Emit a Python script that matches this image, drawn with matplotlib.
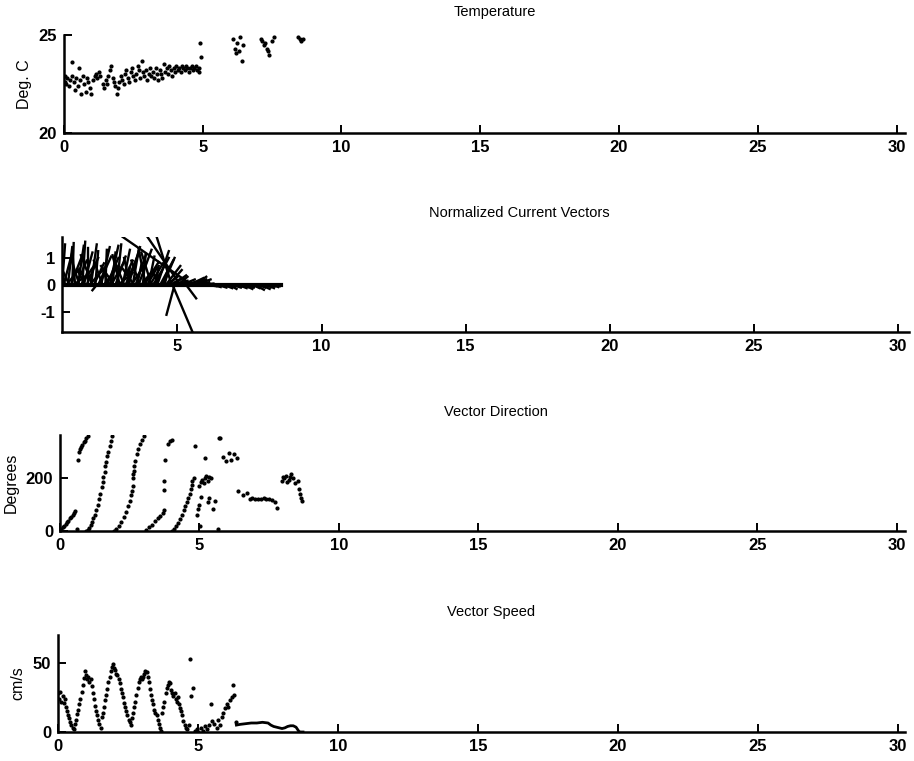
import matplotlib as mpl
mpl.use('Agg')
import matplotlib.pyplot as plt

mpl.rcParams['font.family'] = ['Liberation Sans', 'DejaVu Sans']
mpl.rcParams['axes.unicode_minus'] = False  # plain hyphen for "-1"

# ---- Temperature (Deg. C) ----
temp_t = [0.02, 0.05, 0.08, 0.12, 0.18, 0.22, 0.28, 0.30, 0.35, 0.40, 0.45, 0.50, 0.55, 0.58,
          0.62, 0.68, 0.72, 0.78, 0.82, 0.88, 0.92, 0.98, 1.05, 1.10, 1.15, 1.20, 1.25, 1.30,
          1.40, 1.45, 1.50, 1.55, 1.60, 1.65, 1.70, 1.75, 1.80, 1.85, 1.90, 1.95, 2.00, 2.05,
          2.10, 2.15, 2.20, 2.25, 2.30, 2.35, 2.40, 2.45, 2.50, 2.55, 2.60, 2.65, 2.70, 2.75,
          2.80, 2.85, 2.90, 2.95, 3.00, 3.05, 3.10, 3.15, 3.20, 3.25, 3.30, 3.35, 3.40, 3.45,
          3.50, 3.55, 3.60, 3.65, 3.70, 3.75, 3.80, 3.85, 3.90, 3.95, 4.00, 4.05, 4.10, 4.15,
          4.20, 4.25, 4.30, 4.35, 4.40, 4.45, 4.50, 4.55, 4.60, 4.65, 4.70, 4.75, 4.80, 4.85,
          4.88, 4.90, 4.92,
          6.10, 6.15, 6.20, 6.25, 6.30, 6.35, 6.40, 6.45,
          7.10, 7.15, 7.20, 7.25, 7.30, 7.35, 7.40, 7.50, 7.55,
          8.45, 8.50, 8.55, 8.60]
temp_c = [22.6, 22.9, 22.5, 22.8, 22.4, 22.7, 23.6, 22.9, 22.6, 22.2, 22.8, 22.4, 23.3, 22.7,
          22.0, 22.9, 22.5, 22.1, 22.8, 22.6, 22.3, 22.0, 22.7, 22.9, 23.0, 22.8, 23.1, 22.9,
          22.5, 22.3, 22.7, 22.5, 22.9, 23.2, 23.4, 22.8, 22.6, 22.4, 22.0, 22.3, 22.6, 22.9,
          22.7, 22.5, 23.0, 23.2, 22.8, 22.6, 23.1, 23.3, 22.9, 22.7, 23.0, 23.4, 23.2, 22.8,
          23.7, 23.1, 22.9, 23.2, 22.7, 23.0, 23.3, 22.9, 23.1, 22.8, 23.3, 23.0, 22.7, 23.2,
          23.0, 22.8, 23.5, 23.1, 23.3, 23.0, 23.4, 23.2, 22.9, 23.3, 23.1, 23.4, 23.2, 23.3,
          23.1, 23.4, 23.3, 23.2, 23.4, 23.3, 23.1, 23.3, 23.4, 23.2, 23.3, 23.4, 23.2, 23.3,
          23.1, 24.6, 23.9,
          24.8, 24.3, 24.1, 24.6, 24.2, 24.9, 23.7, 24.5,
          24.8, 24.7, 24.5, 24.6, 24.3, 24.2, 24.0, 24.7, 24.9,
          24.9, 24.8, 24.7, 24.8]

# ---- Normalized current vectors (base time, u, v) ----
vec_t = [1.00, 1.05, 1.10, 1.15, 1.20, 1.25, 1.30, 1.35, 1.40, 1.45, 1.50, 1.55, 1.60, 1.65,
         1.70, 1.75, 1.80, 1.85, 1.90, 1.95, 2.00, 2.05, 2.10, 2.15, 2.20, 2.25, 2.30, 2.35,
         2.40, 2.45, 2.50, 2.55, 2.60, 2.65, 2.70, 2.75, 2.80, 2.85, 2.90, 2.95, 3.00, 3.05,
         3.10, 3.15, 3.20, 3.25, 3.30, 3.35, 3.40, 3.45, 3.50, 3.55, 3.60, 3.65, 3.70, 3.75,
         3.80, 3.85, 3.90, 3.95, 4.00, 4.05, 4.10, 4.15, 4.20, 4.25, 4.30, 4.35, 4.40, 4.45,
         4.50, 4.55, 4.60, 4.65, 4.70, 4.75, 4.80, 4.83, 4.85, 4.90, 4.95, 5.00, 5.10, 5.15,
         5.20, 5.30, 5.40, 5.50, 5.55, 5.60, 5.65, 5.70, 5.80, 5.90, 6.00, 6.10, 6.20, 6.30,
         6.40, 6.50, 6.60, 6.70, 6.80, 6.90, 7.00, 7.10, 7.20, 7.30, 7.40, 7.50, 7.60, 7.70,
         7.80, 7.90, 8.00, 8.10, 8.20, 8.30, 8.40, 8.45]
vec_u = [0.10, 0.30, -0.20, 0.45, 0.15, -0.35, 0.40, 0.05, 0.50, -0.10, 0.35, 0.20, -0.30, 0.45,
         0.10, 0.30, -0.25, 0.40, 0.00, 0.50, 0.20, -0.40, 0.35, 0.10, -0.15, 0.45, 0.20, 0.30,
         -0.30, 0.50, 0.05, 0.40, -0.20, 0.30, 0.45, 0.10, -0.45, 0.35, 0.15, 0.50, -0.25, 0.40,
         0.25, -0.35, 0.45, 0.10, 0.40, -0.20, 0.50, 0.20, -0.40, 0.35, 0.15, 0.45, -0.30, 0.40,
         0.10, 0.50, -0.25, 0.35, 0.20, 0.45, -0.35, 0.30, 0.50, 0.10, 0.40, -0.20, 0.45, 0.25,
         0.40, 0.10, 0.50, 0.35, 0.45, 0.40, -0.52, 0.69, 0.45, -0.28, 0.40, 0.35, -1.14, 0.45,
         0.40, 0.35, 0.50, -2.40, 0.45, 0.40, 0.50, 0.40, 0.45, 0.40, 0.35, 0.40, 0.30, 0.35,
         0.30, 0.35, 0.30, 0.30, 0.25, 0.30, 0.25, 0.30, 0.25, 0.30, 0.25, 0.30, 0.25, 0.30,
         0.25, 0.30, 0.25, 0.25, 0.20, 0.20, 0.15, 0.15]
vec_v = [1.50, 1.20, 0.90, 0.60, 1.40, 0.80, 1.10, 1.55, 0.40, 1.30, 0.90, 1.45, 1.00, 0.70,
         1.60, 1.20, 0.50, 1.00, 1.35, 0.60, 1.50, 1.10, 0.80, 1.25, -0.20, 1.05, 0.55, 1.40,
         0.90, 0.70, 1.30, 1.00, 0.60, 1.45, 0.85, 1.20, 0.70, 1.05, 1.50, 0.45, 1.10, 0.90,
         1.30, 0.95, 1.15, 0.65, 1.40, 1.00, 0.80, 1.25, 0.60, 1.10, 0.75, 1.30, 0.90, 0.55,
         1.15, 0.85, 1.35, 0.65, 1.05, 0.80, 1.20, 0.50, 1.00, 0.70, 1.25, 0.45, 0.90, 0.60,
         1.00, 0.40, 0.70, 0.30, 0.55, 0.25, 1.78, -1.74, 0.35, -1.11, 0.15, 0.30, 1.78, 0.20,
         0.10, -0.50, 0.25, 1.78, 0.20, 0.30, 0.20, 0.10, 0.05, 0.00, -0.05, 0.02, -0.08, 0.00,
         -0.10, -0.05, -0.12, -0.08, -0.15, -0.10, -0.05, -0.12, -0.08, -0.15, -0.10, -0.05, -0.12, -0.18,
         -0.10, -0.15, -0.08, -0.12, -0.05, -0.08, -0.05, -0.03]

# ---- Vector direction (degrees) ----
dir_t = [0.05, 0.10, 0.15, 0.20, 0.25, 0.30, 0.35, 0.40, 0.45, 0.50, 0.55, 0.60,
         0.66, 0.68, 0.72, 0.76, 0.80, 0.85, 0.90, 0.95, 1.00,
         0.93, 1.00, 1.05, 1.10, 1.15, 1.20, 1.25, 1.30, 1.35, 1.40, 1.45, 1.50, 1.53, 1.56,
         1.60, 1.63, 1.66, 1.70, 1.74, 1.78, 1.82, 1.86,
         1.92, 2.00, 2.10, 2.20, 2.30, 2.38, 2.45, 2.50, 2.55, 2.60, 2.61, 2.62, 2.63, 2.64,
         2.66, 2.70, 2.75, 2.80, 2.88, 2.95, 3.03,
         3.10, 3.20, 3.30, 3.40, 3.50, 3.60, 3.68, 3.72, 3.72, 3.73, 3.75, 3.88, 3.95, 4.00,
         4.00, 4.08, 4.15, 4.22, 4.30, 4.38, 4.45, 4.50, 4.55, 4.60, 4.65, 4.70, 4.72, 4.75,
         4.80, 4.84, 4.90, 4.95, 5.00, 5.05, 5.00, 5.05, 5.10, 5.15, 5.20, 5.25, 5.30, 5.35,
         5.40, 5.20, 5.02, 5.30, 5.35, 5.55, 5.50, 5.67, 5.70, 5.75,
         5.85, 5.95, 6.05, 6.15, 6.25, 6.35,
         6.40, 6.55, 6.70, 6.80, 6.90, 7.00, 7.10, 7.20, 7.30, 7.40, 7.50, 7.60, 7.70, 7.78,
         7.95, 8.00, 8.05, 8.10, 8.15, 8.20, 8.25, 8.30, 8.35, 8.42,
         8.53, 8.56, 8.60, 8.63, 8.67]
dir_deg = [8, 15, 20, 28, 35, 40, 48, 55, 62, 70, 78, 10,
           270, 300, 310, 318, 325, 335, 342, 350, 358,
           2, 5, 12, 22, 35, 48, 62, 80, 100, 120, 142, 165, 185, 205,
           225, 245, 262, 282, 300, 320, 340, 358,
           2, 8, 20, 35, 52, 72, 95, 115, 135, 150, 170, 200, 215, 228,
           245, 265, 290, 310, 330, 345, 358,
           5, 15, 25, 38, 48, 58, 70, 80, 157, 190, 267, 330, 340, 345,
           2, 10, 20, 30, 45, 62, 80, 95, 110, 125, 140, 160, 175, 190,
           200, 320, 60, 85, 100, 130, 170, 185, 195, 180, 200, 210, 190, 205,
           200, 277, 20, 110, 125, 113, 85, 10, 352, 350,
           280, 265, 295, 270, 290, 275,
           151, 135, 145, 122, 125, 120, 123, 121, 124, 120, 122, 118, 110, 88,
           190, 205, 200, 210, 185, 195, 205, 215, 200, 180,
           189, 160, 140, 125, 113]

# ---- Vector speed (cm/s) ----
spd_t = [0.00, 0.04, 0.08, 0.12, 0.16, 0.20, 0.24, 0.28, 0.32, 0.36, 0.40, 0.44, 0.48, 0.52,
         0.56, 0.60, 0.64, 0.68, 0.72, 0.76, 0.80, 0.84, 0.88, 0.92, 0.96, 1.00, 1.04, 1.08,
         1.12, 1.16, 1.20, 1.24, 1.28, 1.32, 1.36, 1.40, 1.44, 1.48, 1.52, 1.56, 1.60, 1.64,
         1.68, 1.72, 1.76, 1.80, 1.84, 1.88, 1.92, 1.96, 2.00, 2.04, 2.08, 2.12, 2.16, 2.20,
         2.24, 2.28, 2.32, 2.36, 2.40, 2.44, 2.48, 2.52, 2.56, 2.60, 2.64, 2.68, 2.72, 2.76,
         2.80, 2.84, 2.88, 2.92, 2.96, 3.00, 3.04, 3.08, 3.12, 3.16, 3.20, 3.24, 3.28, 3.32,
         3.36, 3.40, 3.44, 3.48, 3.52, 3.56, 3.60, 3.64, 3.68, 3.72, 3.76, 3.80, 3.84, 3.88,
         3.92, 3.96, 4.00, 4.04, 4.08, 4.12, 4.16, 4.20, 4.24, 4.28, 4.32, 4.36, 4.40, 4.44,
         4.48, 4.52, 4.56, 4.60, 4.66, 4.72, 4.76, 4.82, 4.88, 4.95, 5.00, 5.10, 5.18, 5.25,
         5.32, 5.40, 5.46, 5.50, 5.58, 5.66, 5.72, 5.78, 5.84, 5.90, 5.96, 6.02, 6.08, 6.14,
         6.20, 6.26, 6.30, 6.34]
spd_v = [28, 24, 29, 22, 26, 21, 24, 18, 15, 12, 10, 7, 5, 3,
         2, 6, 9, 13, 16, 20, 24, 29, 34, 39, 44, 41, 38, 40,
         36, 38, 33, 28, 24, 19, 15, 12, 9, 6, 3, 11, 14, 18,
         23, 27, 31, 36, 40, 44, 47, 49, 46, 45, 42, 41, 38, 35,
         31, 28, 25, 21, 18, 15, 12, 9, 7, 5, 10, 14, 18, 22,
         27, 32, 36, 38, 40, 38, 40, 42, 44, 43, 40, 36, 31, 27,
         23, 20, 16, 14, 12, 9, 6, 3, 1, 14, 18, 22, 28, 32,
         34, 36, 35, 30, 28, 26, 28, 24, 22, 25, 20, 17, 15, 12,
         8, 5, 3, 2, 5, 53, 26, 32, 1, 2, 0, 3, 1, 4,
         2, 5, 20, 8, 6, 3, 9, 5, 11, 14, 17, 20, 18, 23,
         25, 34, 27, 7]
spd_line_t = [6.37, 6.50, 6.70, 6.90, 7.10, 7.30, 7.50, 7.60, 7.70, 7.80, 7.90, 8.00, 8.10,
              8.20, 8.30, 8.40, 8.50, 8.55, 8.60, 8.65, 8.75]
spd_line_v = [5, 5.5, 6, 6.5, 6.5, 7, 6.5, 5, 4, 3.5, 3, 2.5, 3,
              4, 4.5, 4.5, 3.5, 2, 0.5, 0, 0]

xticks_all = [0, 5, 10, 15, 20, 25, 30]


def style_axes(ax, title, tx, ylabel, yticks, xlim, ylim):
    ax.set_xlim(xlim)
    ax.set_ylim(ylim)
    ax.spines['top'].set_visible(False)
    ax.spines['right'].set_visible(False)
    ax.spines['left'].set_linewidth(1.8)
    ax.spines['bottom'].set_linewidth(1.8)
    ax.set_xticks([x for x in xticks_all if x >= xlim[0]])
    ax.set_yticks(yticks)
    ax.tick_params(direction='in', length=6, width=1.4, labelsize=12, pad=5)
    for lab in ax.get_xticklabels() + ax.get_yticklabels():
        lab.set_fontweight('bold')
    ax.set_title(title, x=tx, pad=14, fontsize=10.5)
    if ylabel:
        ax.set_ylabel(ylabel, fontsize=11.5, labelpad=5)


fig = plt.figure(figsize=(9.14, 7.61), dpi=100)

ax1 = fig.add_axes([0.070, 0.825, 0.920, 0.129])
ax1.plot(temp_t, temp_c, '.', color='black', markersize=4)
style_axes(ax1, 'Temperature', 0.512, 'Deg. C', [20, 25], (0, 30.3), (20, 25))

ax2 = fig.add_axes([0.068, 0.5637, 0.927, 0.125])
for t, u, v in zip(vec_t, vec_u, vec_v):
    ax2.plot([t, t + u], [0, v], '-', color='black', linewidth=1.7)
ax2.plot([vec_t[0], vec_t[-1] + 0.15], [0, 0], '-', color='black', linewidth=3)
style_axes(ax2, 'Normalized Current Vectors', 0.54, None, [-1, 0, 1], (1, 30.4), (-1.75, 1.78))

ax3 = fig.add_axes([0.0656, 0.302, 0.9245, 0.126])
ax3.plot(dir_t, dir_deg, '.', color='black', markersize=4)
style_axes(ax3, 'Vector Direction', 0.516, 'Degrees', [0, 200], (0, 30.3), (0, 362))

ax4 = fig.add_axes([0.0635, 0.0381, 0.9267, 0.1275])
ax4.plot(spd_t, spd_v, '.', color='black', markersize=4)
ax4.plot(spd_line_t, spd_line_v, '-', color='black', linewidth=2)
style_axes(ax4, 'Vector Speed', 0.511, 'cm/s', [0, 50], (0, 30.25), (0, 70))

fig.savefig('out.png', dpi=100)
